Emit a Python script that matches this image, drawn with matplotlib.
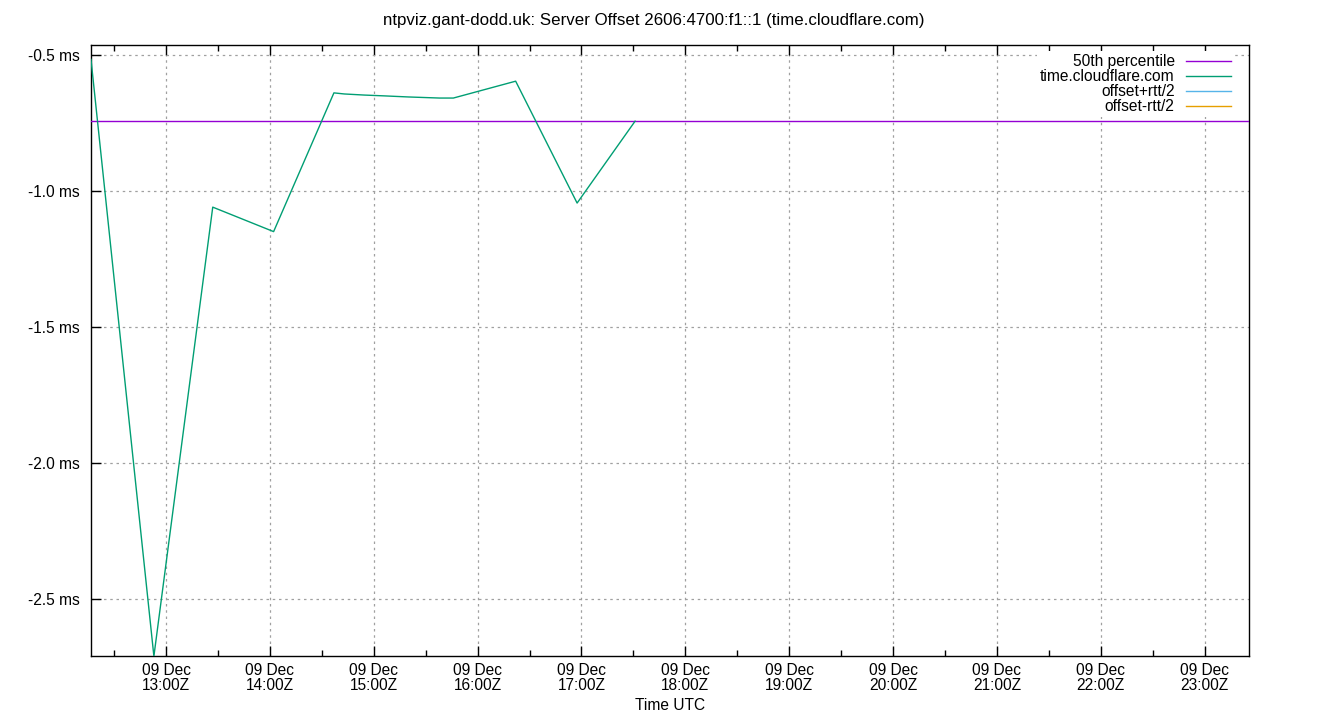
import matplotlib
matplotlib.use("Agg")
import matplotlib.pyplot as plt
import matplotlib.dates as mdates
from matplotlib.ticker import FuncFormatter
import numpy as np
from datetime import datetime

plt.rcParams['font.family'] = ['Liberation Sans', 'DejaVu Sans']
plt.rcParams['font.size'] = 11.2

# offset samples for time.cloudflare.com (ms), 09 Dec
times = ["12:16:40", "12:53:00", "13:27:00", "14:02:10", "14:37:00", "14:43:00",
         "14:54:30", "15:06:00", "15:20:00", "15:38:00", "15:46:00", "16:22:00",
         "16:57:30", "17:31:00"]
offset_ms = [-0.516, -2.71, -1.059, -1.149, -0.639, -0.643,
             -0.647, -0.650, -0.654, -0.658, -0.658, -0.596,
             -1.044, -0.743]
median_ms = -0.742

x_start = "12:16:40"
x_end = "23:25:40"
y_range = (-2.709, -0.463)
day = "2024-12-09 "

def to_dt(s):
    return datetime.strptime(day + s, "%Y-%m-%d %H:%M:%S")

t = [to_dt(s) for s in times]

fig = plt.figure(figsize=(13.4, 7.2), dpi=100)
ax = fig.add_axes([91/1340, 1 - 656/720, (1249 - 91)/1340, (656 - 45)/720])

ax.axhline(median_ms, color='#9400d3', lw=1.0, label='50th percentile', zorder=3)
ax.plot(t, offset_ms, color='#009e73', lw=1.0, label='time.cloudflare.com', zorder=4)
ax.plot([], [], color='#56b4e9', lw=1.0, label='offset+rtt/2')
ax.plot([], [], color='#e69f00', lw=1.0, label='offset-rtt/2')

ax.set_xlim(to_dt(x_start), to_dt(x_end))
ax.set_ylim(*y_range)

ax.xaxis.set_major_locator(mdates.HourLocator())
ax.xaxis.set_minor_locator(mdates.MinuteLocator(byminute=[30]))
ax.xaxis.set_major_formatter(mdates.DateFormatter('%d %b\n%H:%MZ'))
ax.set_yticks([-2.5, -2.0, -1.5, -1.0, -0.5])
ax.yaxis.set_major_formatter(FuncFormatter(lambda v, p: '%.1f ms' % v))

ax.tick_params(axis='x', which='both', direction='in', top=True, bottom=True, pad=5)
ax.tick_params(axis='x', which='major', length=7, width=1)
ax.tick_params(axis='x', which='minor', length=4, width=1)
ax.tick_params(axis='y', which='major', direction='in', left=True, right=False, length=7, width=1, pad=8)
for lab in ax.get_xticklabels():
    lab.set_linespacing(1.0)

ax.grid(True, which='major', color='#a0a0a0', linestyle=(0, (2, 3)), linewidth=0.9)
for s in ax.spines.values():
    s.set_linewidth(1)

ax.set_xlabel('Time UTC', labelpad=4)
fig.suptitle('ntpviz.gant-dodd.uk: Server Offset 2606:4700:f1::1 (time.cloudflare.com)',
             x=654/1340, y=0.982, fontsize=12.2)

leg = ax.legend(loc='upper right', bbox_to_anchor=(1 - 9/1158, 1),
                markerfirst=False, frameon=True, fancybox=False,
                edgecolor='none', facecolor='white', framealpha=1,
                borderpad=0.2, labelspacing=0.0, handlelength=2.9, handletextpad=0.7,
                borderaxespad=0.4)
for txt in leg.get_texts():
    txt.set_ha('right')
leg.set_zorder(10)

plt.savefig('out.png', dpi=100)
